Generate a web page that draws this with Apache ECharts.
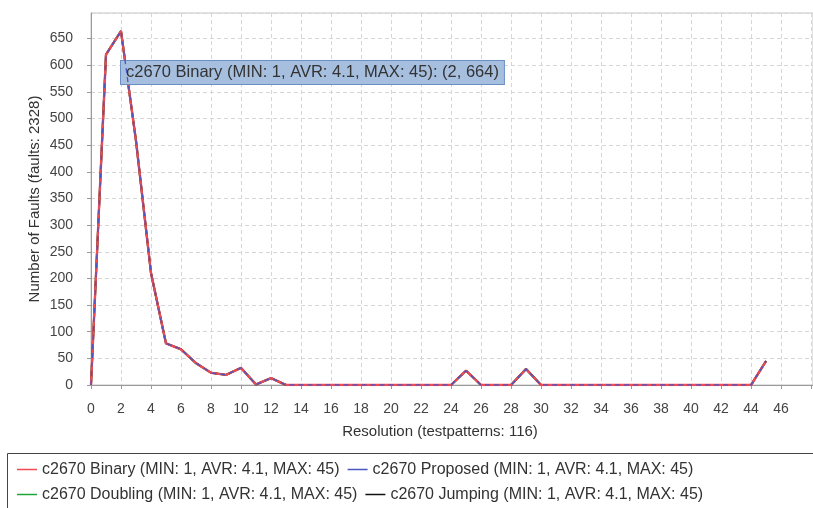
<!DOCTYPE html>
<html>
<head>
<meta charset="utf-8">
<script src="https://cdn.jsdelivr.net/npm/echarts@6/dist/echarts.min.js"></script>
<style>
  html, body { margin: 0; padding: 0; background: #fff; }
  #chart { width: 813px; height: 508px; }
</style>
</head>
<body>
<div id="chart"></div>
<script>
// Resolution values (x) and number of faults at each resolution (y)
const resolution = [0, 1, 2, 3, 4, 5, 6, 7, 8, 9, 10, 11, 12, 13, 14, 15, 16, 17, 18, 19, 20, 21, 22,
  23, 24, 25, 26, 27, 28, 29, 30, 31, 32, 33, 34, 35, 36, 37, 38, 39, 40, 41, 42, 43, 44, 45];
const faultsBinary = [0, 620, 664, 458, 210, 78, 67, 41, 23, 19, 32, 1, 13, 0, 0, 0, 0, 0, 0, 0, 0, 0, 0,
  0, 0, 27, 0, 0, 0, 30, 0, 0, 0, 0, 0, 0, 0, 0, 0, 0, 0, 0, 0, 0, 0, 45];
const faultsProposed = faultsBinary.slice();
const faultsDoubling = faultsBinary.slice();
const faultsJumping = faultsBinary.slice();

const seriesNames = [
  'c2670 Binary (MIN: 1, AVR: 4.1, MAX: 45)',
  'c2670 Proposed (MIN: 1, AVR: 4.1, MAX: 45)',
  'c2670 Doubling (MIN: 1, AVR: 4.1, MAX: 45)',
  'c2670 Jumping (MIN: 1, AVR: 4.1, MAX: 45)'
];
const xTitle = 'Resolution (testpatterns: 116)';
const yTitle = 'Number of Faults (faults: 2328)';
const lastXLabel = 46;
const highlight = { series: 0, x: 2, y: 664 };

const FONT = '"Liberation Sans", Arial, sans-serif';

function pairs(values) {
  return resolution.map((x, i) => [x, values[i]]);
}

function lineSeries(name, values, color, width, z, dashed) {
  return {
    name: name,
    type: 'line',
    data: pairs(values),
    symbol: 'none',
    z: z,
    color: color,
    lineStyle: { color: color, width: width, type: dashed ? [5, 4] : 'solid' },
    emphasis: { disabled: true },
    animation: false
  };
}

const series = [
  lineSeries(seriesNames[0], faultsBinary, '#f04a55', 2.4, 4, false),
  lineSeries(seriesNames[1], faultsProposed, '#4a56c0', 1.3, 5, true),
  lineSeries(seriesNames[2], faultsDoubling, '#1fa534', 2, 2, false),
  lineSeries(seriesNames[3], faultsJumping, '#111111', 2, 3, false)
];

// Hover-style annotation box anchored on the highlighted point
series[highlight.series].markPoint = {
  symbol: 'circle',
  symbolSize: 0,
  silent: true,
  data: [{ coord: [highlight.x, highlight.y] }],
  label: {
    show: true,
    position: [0, 30],
    align: 'left',
    verticalAlign: 'top',
    formatter: seriesNames[highlight.series] + ': (' + highlight.x + ', ' + highlight.y + ')',
    fontFamily: FONT,
    fontSize: 16.5,
    color: '#333',
    backgroundColor: '#a6bfdf',
    borderColor: '#6b8fc4',
    borderWidth: 1,
    padding: [3, 5, 3, 5]
  }
};

const chart = echarts.init(document.getElementById('chart'), null, { renderer: 'canvas' });
chart.setOption({
  backgroundColor: '#ffffff',
  animation: false,
  grid: {
    left: 91, right: 0, top: 13, bottom: 123,
    outerBoundsMode: 'none',
    containLabel: false,
    show: true, borderColor: '#c4c4c4', borderWidth: 1, backgroundColor: '#ffffff'
  },
  xAxis: {
    type: 'value',
    min: 0,
    max: 48.13,
    interval: 2,
    offset: 8,
    name: xTitle,
    nameLocation: 'middle',
    nameGap: 31,
    nameTextStyle: { fontFamily: FONT, fontSize: 15, color: '#333', padding: [0, 24, 0, 0] },
    axisLine: { show: true, lineStyle: { color: '#9a9a9a', width: 1 } },
    axisTick: { show: true, length: 4, lineStyle: { color: '#9a9a9a' } },
    axisLabel: {
      fontFamily: FONT, fontSize: 14, color: '#444', margin: 9, showMaxLabel: false,
      formatter: v => (v > lastXLabel ? '' : String(v))
    },
    splitLine: { show: true, lineStyle: { color: '#d6d6d6', type: [4, 3] } }
  },
  yAxis: {
    type: 'value',
    min: 0,
    max: 698,
    interval: 50,
    offset: 9,
    name: yTitle,
    nameLocation: 'middle',
    nameGap: 40,
    nameMoveOverlap: false,
    nameTextStyle: { fontFamily: FONT, fontSize: 15, color: '#333' },
    axisLine: { show: true, lineStyle: { color: '#9a9a9a', width: 1 } },
    axisTick: { show: true, length: 4, lineStyle: { color: '#9a9a9a' } },
    axisLabel: { fontFamily: FONT, fontSize: 14, color: '#444', margin: 9, showMaxLabel: false },
    splitLine: { show: true, lineStyle: { color: '#d6d6d6', type: [4, 3] } }
  },
  legend: {
    left: 12,
    top: 456,
    width: 760,
    orient: 'horizontal',
    icon: 'rect',
    itemWidth: 20,
    itemHeight: 1.5,
    itemGap: 8,
    selectedMode: false,
    data: seriesNames,
    textStyle: { fontFamily: FONT, fontSize: 16, color: '#333', lineHeight: 17 }
  },
  graphic: [{
    type: 'rect',
    silent: true,
    shape: { x: 7.5, y: 453.5, width: 830, height: 80 },
    style: { fill: 'none', stroke: '#444', lineWidth: 1 }
  }],
  series: series
});
</script>
</body>
</html>
